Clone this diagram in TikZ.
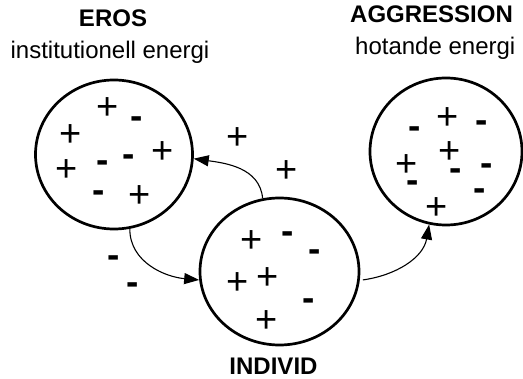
\documentclass[tikz,border=0pt]{standalone}
\usepackage{fontspec}
\setmainfont{Liberation Sans}
\usetikzlibrary{arrows.meta,shapes.geometric}
\tikzset{
  blob/.style={draw, ellipse, line width=2.7pt, inner sep=0pt},
  flow/.style={line width=1.1pt, -{Triangle[length=15pt,width=11pt]}},
  head/.style={font=\fontsize{24}{28}\selectfont\bfseries, inner sep=0pt, anchor=base},
  sub/.style={font=\fontsize{24}{28}\selectfont, inner sep=0pt, anchor=base},
  pl/.style={font=\fontsize{38}{40}\selectfont, inner sep=0pt, yshift=-3pt},
  mi/.style={font=\fontsize{37}{40}\selectfont\bfseries, inner sep=0pt, yshift=-5pt},
}
\begin{document}
\begin{tikzpicture}[x=1pt,y=-1pt]
\useasboundingbox (0,0) rectangle (523,379);
% circles
\node[blob, minimum width=157pt, minimum height=149pt] (eros) at (114,154.5) {};
\node[blob, minimum width=159pt, minimum height=147pt] (indiv) at (279.5,271.5) {};
\node[blob, minimum width=152pt, minimum height=147pt] (aggr) at (446,151.5) {};
% titles
\node[head] (terOS) at (113,27) {EROS};
\node[sub] (tinst) at (110,59) {institutionell energi};
\node[head, anchor=base west] (taggr) at (350,23) {AGGRESSION};
\node[sub, anchor=base west] (thot) at (355,55) {hotande energi};
\node[head] (tind) at (273.5,375) {INDIVID};
% EROS signs
\node[pl] (e1) at (108,106) {+};
\node[mi] (e2) at (137,118) {-};
\node[pl] (e3) at (71,133) {+};
\node[pl] (e4) at (163,150) {+};
\node[mi] (e5) at (103,162) {-};
\node[mi] (e6) at (129,156) {-};
\node[pl] (e7) at (67,168) {+};
\node[mi] (e8) at (99,192) {-};
\node[pl] (e9) at (140,194) {+};
% free signs
\node[pl] (f1) at (238,136) {+};
\node[pl] (f2) at (287,169) {+};
\node[mi] (f3) at (114,257) {-};
\node[mi] (f4) at (133,284) {-};
% INDIVID signs
\node[pl] (i1) at (252,239) {+};
\node[mi] (i2) at (288,233) {-};
\node[mi] (i3) at (315,251) {-};
\node[pl] (i4) at (238,281) {+};
\node[pl] (i5) at (268,276) {+};
\node[mi] (i6) at (309,300) {-};
\node[pl] (i7) at (267,319) {+};
% AGGRESSION signs
\node[pl] (a1) at (448,116) {+};
\node[mi] (a2) at (482,122) {-};
\node[mi] (a3) at (415,128) {-};
\node[pl] (a4) at (450,150) {+};
\node[pl] (a5) at (407,163) {+};
\node[mi] (a6) at (456,170) {-};
\node[mi] (a7) at (487,165) {-};
\node[mi] (a8) at (413,182) {-};
\node[mi] (a9) at (480,190) {-};
\node[pl] (a10) at (437,206) {+};
% connectors
\draw[flow] (indiv.103) to[out=95,in=-8] (eros.-3);
\draw[flow] (eros.-78) to[out=-90,in=175] (indiv.186);
\draw[flow] ([xshift=3pt]indiv.-6) to[out=8,in=-100] (aggr.257);
\end{tikzpicture}
\end{document}
